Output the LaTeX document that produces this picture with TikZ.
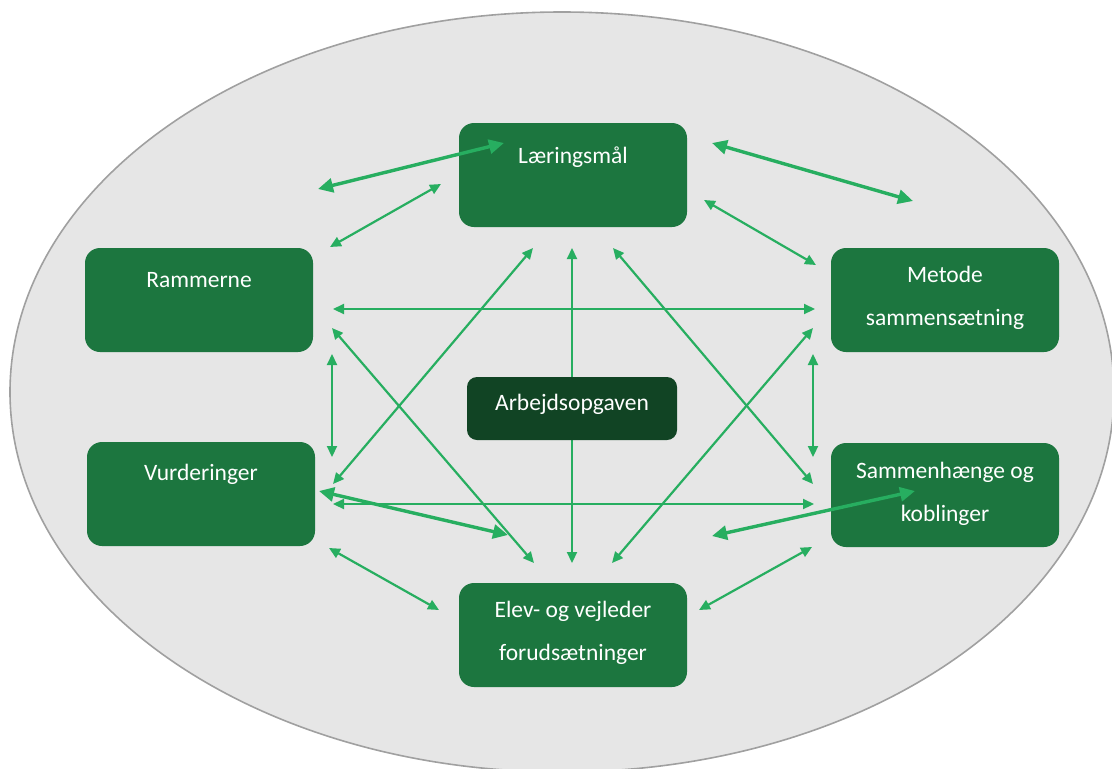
\documentclass[tikz,border=0pt]{standalone}
\usepackage{fontspec}
\setmainfont{Carlito}
\usetikzlibrary{arrows.meta}
\definecolor{bgrey}{RGB}{230,230,230}
\definecolor{egrey}{RGB}{160,160,160}
\definecolor{boxgreen}{RGB}{28,118,63}
\definecolor{darkgreen}{RGB}{17,68,36}
\definecolor{arrgreen}{RGB}{39,174,96}

\begin{document}
\begin{tikzpicture}[x=1pt,y=-1pt,
    box/.style={fill=boxgreen,rounded corners=15pt,minimum width=228pt,minimum height=104pt,inner sep=0pt},
    txt/.style={text=white,align=center,font=\fontsize{23.5}{43}\selectfont},
    arr/.style={arrgreen,line width=2.2pt,{Triangle[length=11pt,width=10pt]}-{Triangle[length=11pt,width=10pt]}},
    tarr/.style={arrgreen,line width=3.4pt,{Triangle[length=15pt,width=14pt]}-{Triangle[length=15pt,width=14pt]}}]
   \useasboundingbox (0,0) rectangle (1112,769) ;
   \clip (0,0) rectangle (1112,769) ;
   % background ellipse
   \draw[fill=bgrey,draw=egrey,line width=1.6pt] (562,392) ellipse (552 and 380) ;
   % boxes
   \node[box] (laer) at (573,175) {} ;
   \node[box] (ramm) at (199,300) {} ;
   \node[box] (meto) at (945,300) {} ;
   \node[box] (vurd) at (201,494) {} ;
   \node[box] (samm) at (945,495) {} ;
   \node[box] (elev) at (573,635) {} ;
   \node[txt] (laer-t) at (573,157) {Læringsmål} ;
   \node[txt] (ramm-t) at (199,280) {Rammerne} ;
   \node[txt] (meto-t) at (945,298) {Metode\\sammensætning} ;
   \node[txt] (vurd-t) at (201,474) {Vurderinger} ;
   \node[txt] (samm-t) at (945,494) {Sammenhænge og\\koblinger} ;
   \node[txt] (elev-t) at (573,633) {Elev- og vejleder\\forudsætninger} ;
   % arrows
   \draw[arr] ([shift={(-132,9)}]laer.center) -- ([shift={(131,-53)}]ramm.center) ;
   \draw[tarr] ([shift={(-69,-32)}]laer.center) -- ([shift={(119,-111)}]ramm.center) ;
   \draw[tarr] ([shift={(139,-32)}]laer.center) -- ([shift={(-32,-99)}]meto.center) ;
   \draw[arr] ([shift={(131,25)}]laer.center) -- ([shift={(-129,-35)}]meto.center) ;
   \draw[arr] ([shift={(134,9)}]ramm.center) -- ([shift={(-130,9)}]meto.center) ;
   \draw[arr] ([shift={(133,28)}]ramm.center) -- ([shift={(-39,-72)}]elev.center) ;
   \draw[arr] ([shift={(-40,73)}]laer.center) -- ([shift={(132,-10)}]vurd.center) ;
   \draw[arr] ([shift={(133,54)}]ramm.center) -- ([shift={(131,-37)}]vurd.center) ;
   \draw[tarr] ([shift={(118,-3)}]vurd.center) -- ([shift={(-65,-100)}]elev.center) ;
   \draw[arr] ([shift={(132,10)}]vurd.center) -- ([shift={(-131,9)}]samm.center) ;
   \draw[arr] ([shift={(128,54)}]vurd.center) -- ([shift={(-134,-25)}]elev.center) ;
   \draw[arr] ([shift={(-1,73)}]laer.center) -- ([shift={(-1,-72)}]elev.center) ;
   \draw[arr] ([shift={(40,73)}]laer.center) -- ([shift={(-132,-11)}]samm.center) ;
   \draw[arr] ([shift={(-132,28)}]meto.center) -- ([shift={(39,-72)}]elev.center) ;
   \draw[arr] ([shift={(-132,54)}]meto.center) -- ([shift={(-132,-38)}]samm.center) ;
   \draw[tarr] ([shift={(139,-99)}]elev.center) -- ([shift={(-30,-4)}]samm.center) ;
   \draw[arr] ([shift={(-133,52)}]samm.center) -- ([shift={(126,-25)}]elev.center) ;
   % centre box on top
   \node[box,fill=darkgreen,minimum width=210pt,minimum height=63pt,rounded corners=10pt] (arbe) at (572,408.5) {} ;
   \node[txt] (arbe-t) at (572,404) {Arbejdsopgaven} ;
\end{tikzpicture}
\end{document}
